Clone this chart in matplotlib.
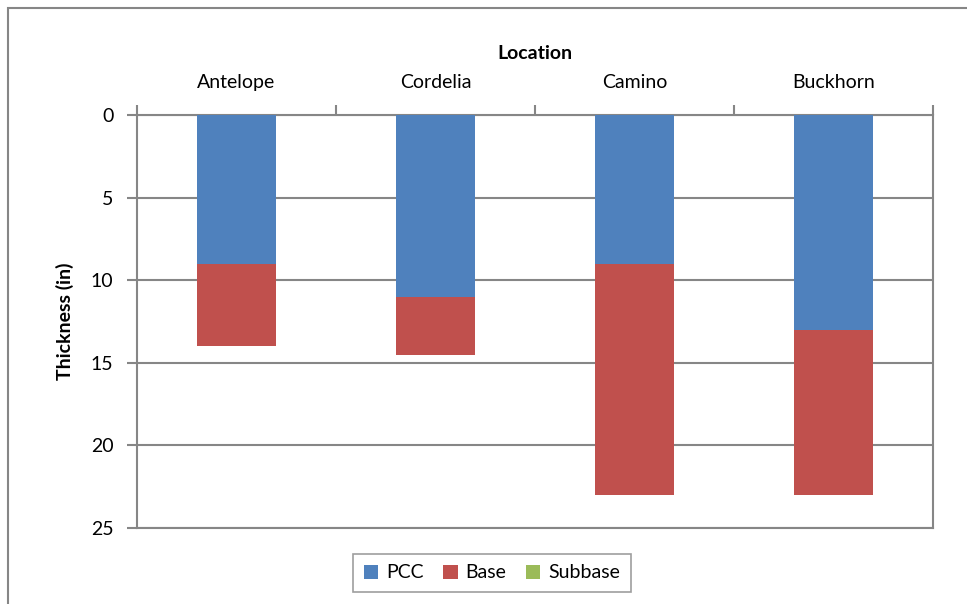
import numpy as np
import matplotlib
matplotlib.use("Agg")
import matplotlib.pyplot as plt
from matplotlib.patches import Rectangle

plt.rcParams['font.family'] = ['Lato', 'DejaVu Sans']

locations = ["Antelope", "Cordelia", "Camino", "Buckhorn"]
pcc = [9, 11, 9, 13]
base = [5, 3.5, 14, 10]
subbase = [0, 0, 0, 0]

grey = "#868686"
fs = 14

fig = plt.figure(figsize=(9.67, 6.04), dpi=100)
ax = fig.add_axes([137 / 967, 1 - 528 / 604, (933 - 137) / 967, (528 - 115) / 604])

x = np.arange(len(locations))
w = 0.4
ax.bar(x, pcc, w, color="#4F81BD", label="PCC", zorder=3)
ax.bar(x, base, w, bottom=pcc, color="#C0504D", label="Base", zorder=3)
bot2 = np.array(pcc) + np.array(base)
ax.bar(x, subbase, w, bottom=bot2, color="#9BBB59", label="Subbase", zorder=3)

ax.set_xlim(-0.5, 3.5)
ax.set_ylim(25, 0)
ax.set_yticks(np.arange(0, 26, 5))
ax.yaxis.grid(True, color=grey, linewidth=1.5, zorder=0)

# category labels on top, ticks at boundaries
ax.xaxis.tick_top()
ax.xaxis.set_label_position("top")
ax.set_xticks(np.arange(-0.5, 4, 1))
ax.set_xticklabels([])
ax.set_xticks(x, minor=True)
ax.set_xticklabels(locations, minor=True, fontsize=fs)
ax.tick_params(axis="x", which="major", length=7, color=grey, width=1.5, direction="out")
ax.tick_params(axis="x", which="minor", length=0, pad=17)
ax.tick_params(axis="y", length=7, color=grey, width=1.5, labelsize=fs, pad=10)
ax.set_xlabel("Location", fontsize=fs, fontweight="bold", labelpad=11)
ax.set_ylabel("Thickness (in)", fontsize=fs, fontweight="bold", labelpad=12)

for s in ["left", "top", "right", "bottom"]:
    ax.spines[s].set_color(grey)
    ax.spines[s].set_linewidth(1.5)

leg = ax.legend(loc="center", bbox_to_anchor=(492 / 967, 31 / 604), bbox_transform=fig.transFigure,
                ncol=3, frameon=True, fancybox=False, fontsize=fs, handlelength=0.75,
                handleheight=0.75, columnspacing=1.0, handletextpad=0.4, borderpad=0.55)
leg.get_frame().set_edgecolor(grey)
leg.get_frame().set_linewidth(1.2)

# outer chart frame (cropped at right and bottom)
fig.add_artist(Rectangle((8 / 967, -0.1), 1.2, 1 - 8 / 604 + 0.1, transform=fig.transFigure,
                         fill=False, edgecolor=grey, linewidth=1.5))

fig.savefig("out.png", dpi=100)
